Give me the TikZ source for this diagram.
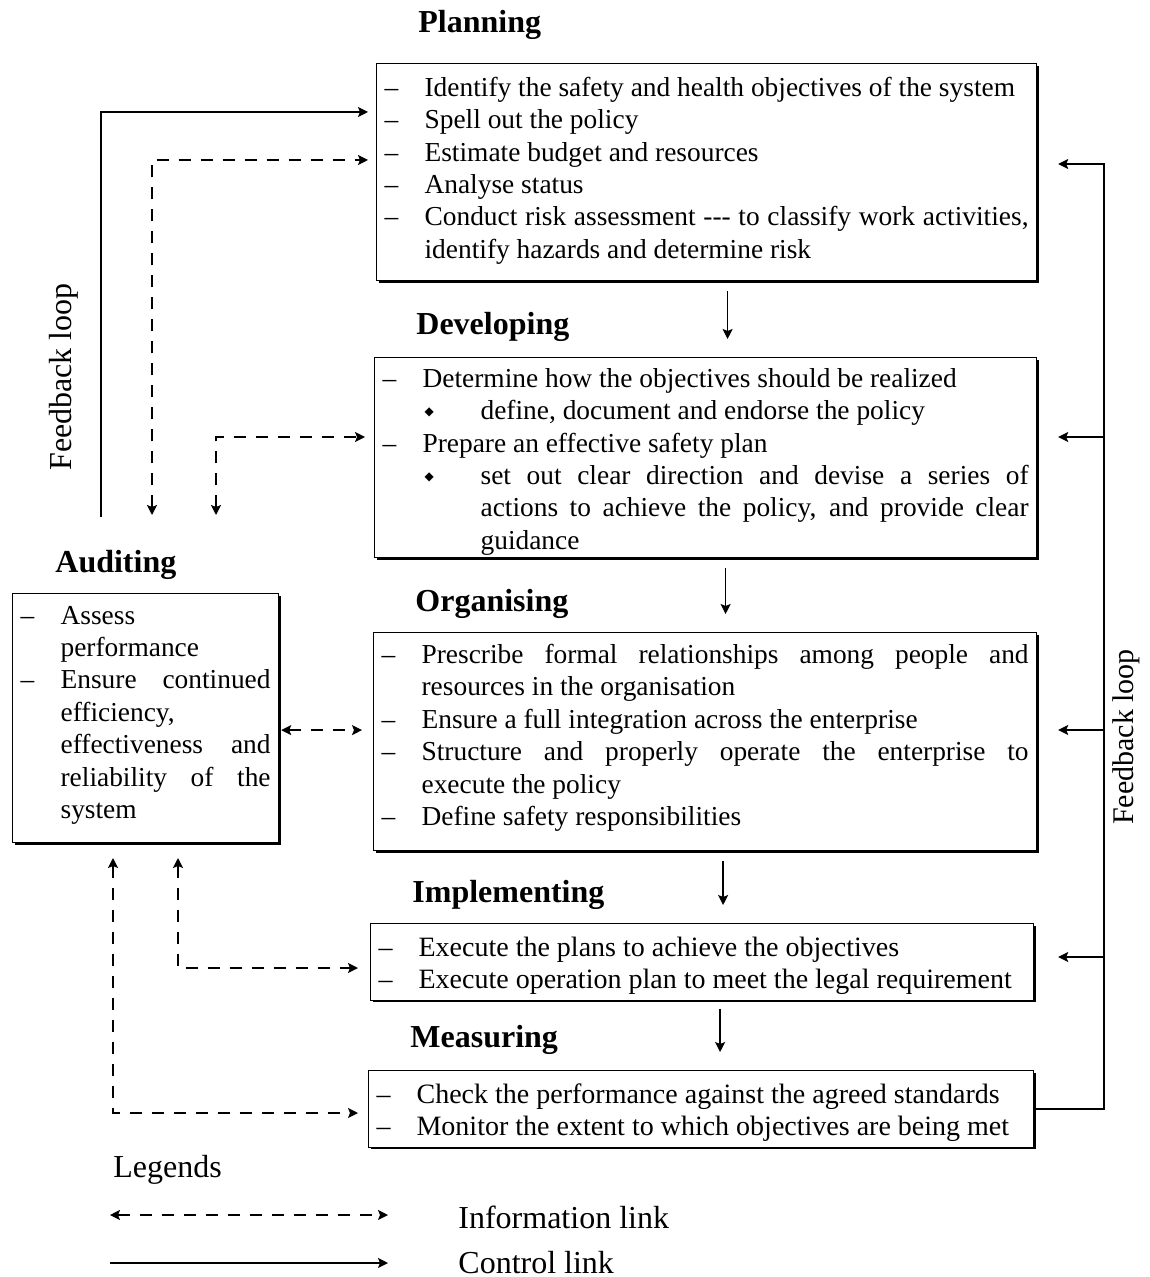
\documentclass[tikz,border=0pt]{standalone}
\usepackage{fontspec}
\setmainfont{Liberation Serif}
\newfontfamily\diafont{DejaVu Sans}
\usepackage{tikz}
\usetikzlibrary{arrows.meta,calc,shadows}
\hyphenpenalty=10000
\exhyphenpenalty=10000

\newcommand{\dashitem}{\par\noindent\hangindent=20pt\hangafter=1\strut\makebox[20pt][l]{--}}
\newcommand{\diaitem}{\par\noindent\hangindent=49pt\hangafter=1\strut\hspace*{21pt}\makebox[28pt][l]{\raisebox{2pt}{\diafont\fontsize{6}{6}\selectfont ◆}}}

\begin{document}
\begin{tikzpicture}[
					x = 0.5pt, y = -0.5pt,
					>={Stealth[length=5pt,width=5pt,inset=1pt]},
					box/.style = {draw, line width=0.6pt, fill=white, anchor=north west,
						inner xsep=4pt, inner ysep=1pt, align=justify,
						font=\fontsize{13.7}{16.2}\selectfont,
						drop shadow={shadow xshift=1pt,shadow yshift=-1pt,fill=black,opacity=1}},
					head/.style = {anchor=base west, inner sep=0pt, font=\fontsize{16}{19}\selectfont\bfseries},
					ctrl/.style = {draw, line width=0.7pt, ->},
					info/.style = {draw, line width=0.7pt, dash pattern=on 6pt off 5pt, <->},
					legtext/.style = {anchor=base west, inner sep=0pt, font=\fontsize{16}{19}\selectfont}
					]

					\useasboundingbox (0,0) rectangle (1149,1277);

					\node[box, text width=322pt, minimum height=108.5pt] (plan) at (376,63) {\vspace*{-8pt}
						\dashitem Identify the safety and health objectives of the system
						\dashitem Spell out the policy
						\dashitem Estimate budget and resources
						\dashitem Analyse status
						\dashitem Conduct risk assessment \mbox{-{}-{}-} to classify work activities,\linebreak identify hazards and determine risk\par};
					\node[box, text width=323pt, minimum height=100pt] (dev) at (374,357) {\vspace*{-2.5pt}
						\dashitem Determine how the objectives should be realized
						\diaitem define, document and endorse the policy
						\dashitem Prepare an effective safety plan
						\diaitem set out clear direction and devise a series of\linebreak actions to achieve the policy, and provide clear\linebreak guidance\par};
					\node[box, text width=323.5pt, minimum height=109pt] (org) at (373,632) {\vspace*{-8.5pt}
						\dashitem Prescribe formal relationships among people and\linebreak resources in the organisation
						\dashitem Ensure a full integration across the enterprise
						\dashitem Structure and properly operate the enterprise to\linebreak execute the policy
						\dashitem Define safety responsibilities\par\vspace*{6pt}};
					\node[box, text width=323.5pt, minimum height=37.5pt, font=\fontsize{14}{16.2}\selectfont] (impl) at (370,923) {\vspace*{-1pt}
						\dashitem Execute the plans to achieve the objectives
						\dashitem Execute operation plan to meet the legal requirement\par};
					\node[box, text width=324.5pt, minimum height=36.5pt, font=\fontsize{14}{16.2}\selectfont] (meas) at (368,1070) {\vspace*{-1pt}
						\dashitem Check the performance against the agreed standards
						\dashitem Monitor the extent to which objectives are being met\par};
					\node[box, text width=125pt, minimum height=124.5pt] (aud) at (12,593) {\vspace*{-10pt}
						\dashitem Assess\newline performance
						\dashitem Ensure continued\linebreak efficiency,\newline effectiveness and\linebreak reliability of the\linebreak system\par};

					\node[head] (planh) at ([xshift=21pt,yshift=15pt]plan.north west) {Planning};
					\node[head] (devh) at ([xshift=21pt,yshift=11pt]dev.north west) {Developing};
					\node[head] (orgh) at ([xshift=21pt,yshift=10.5pt]org.north west) {Organising};
					\node[head] (implh) at ([xshift=21pt,yshift=10.5pt]impl.north west) {Implementing};
					\node[head] (meash) at ([xshift=21pt,yshift=11.5pt]meas.north west) {Measuring};
					\node[head] (audh) at ([xshift=21.5pt,yshift=10.5pt]aud.north west) {Auditing};

					\draw[ctrl] ($(plan.south)+(10.5pt,-5pt)$) -- ($(plan.south |- dev.north)+(10.5pt,9pt)$);
					\draw[ctrl] ($(dev.south)+(10pt,-5pt)$) -- ($(dev.south |- org.north)+(10pt,9pt)$);
					\draw[ctrl] ($(org.south)+(9pt,-5pt)$) -- ($(org.south |- impl.north)+(9pt,9pt)$);
					\draw[ctrl] ($(impl.south)+(9pt,-4pt)$) -- ($(impl.south |- meas.north)+(9pt,9pt)$);

					\coordinate (fbRp) at (1104,164);
					\coordinate (fbRd) at (1104,437);
					\coordinate (fbRo) at (1104,730);
					\coordinate (fbRi) at (1104,957);
					\draw[ctrl] (meas.east) -- (meas.east -| fbRp) -- (fbRp) -- ($(plan.east |- fbRp)+(10.5pt,0)$);
					\draw[ctrl] (fbRd) -- ($(dev.east |- fbRd)+(10.5pt,0)$);
					\draw[ctrl] (fbRo) -- ($(org.east |- fbRo)+(10.5pt,0)$);
					\draw[ctrl] (fbRi) -- ($(impl.east |- fbRi)+(12pt,0)$);
					\node[rotate=90, inner sep=0pt, font=\fontsize{15}{18}\selectfont] (fbRt) at (1126,737) {Feedback loop};

					\coordinate (fbL) at (101,517);
					\coordinate (fbLp) at (101,112);
					\draw[ctrl] (fbL) -- (fbLp) -- ($(plan.west |- fbLp)+(-4pt,0)$);
					\node[rotate=90, inner sep=0pt, font=\fontsize{16}{19}\selectfont] (fbLt) at (64,377) {Feedback loop};

					\coordinate (ipA) at (152,515);
					\coordinate (ipAc) at (152,160);
					\draw[info] (ipA) -- (ipAc) -- ($(plan.west |- ipAc)+(-4pt,0)$);
					\coordinate (idA) at (216,515);
					\coordinate (idAc) at (216,437);
					\draw[info] (idA) -- (idAc) -- ($(dev.west |- idAc)+(-4.5pt,0)$);
					\draw[info] ($(aud.east)+(1pt,-6pt)$) -- ($(org.west |- aud.east)+(-5.5pt,-6pt)$);
					\coordinate (iiA) at (178,858);
					\coordinate (iiAc) at (178,968);
					\draw[info] (iiA) -- (iiAc) -- ($(impl.west |- iiAc)+(-6pt,0)$);
					\coordinate (imA) at (113,858);
					\coordinate (imAc) at (113,1113);
					\draw[info] (imA) -- (imAc) -- ($(meas.west |- imAc)+(-5pt,0)$);

					\node[legtext] (leg) at (113,1177) {Legends};
					\node[legtext] (infot) at (458,1228) {Information link};
					\node[legtext] (ctrlt) at (458,1273) {Control link};
					\coordinate (lgI) at (110,1215);
					\coordinate (lgIe) at (388,1215);
					\coordinate (lgC) at (110,1263);
					\coordinate (lgCe) at (388,1263);
					\draw[info] (lgI) -- (lgIe);
					\draw[ctrl] (lgC) -- (lgCe);

				\end{tikzpicture}
\end{document}
